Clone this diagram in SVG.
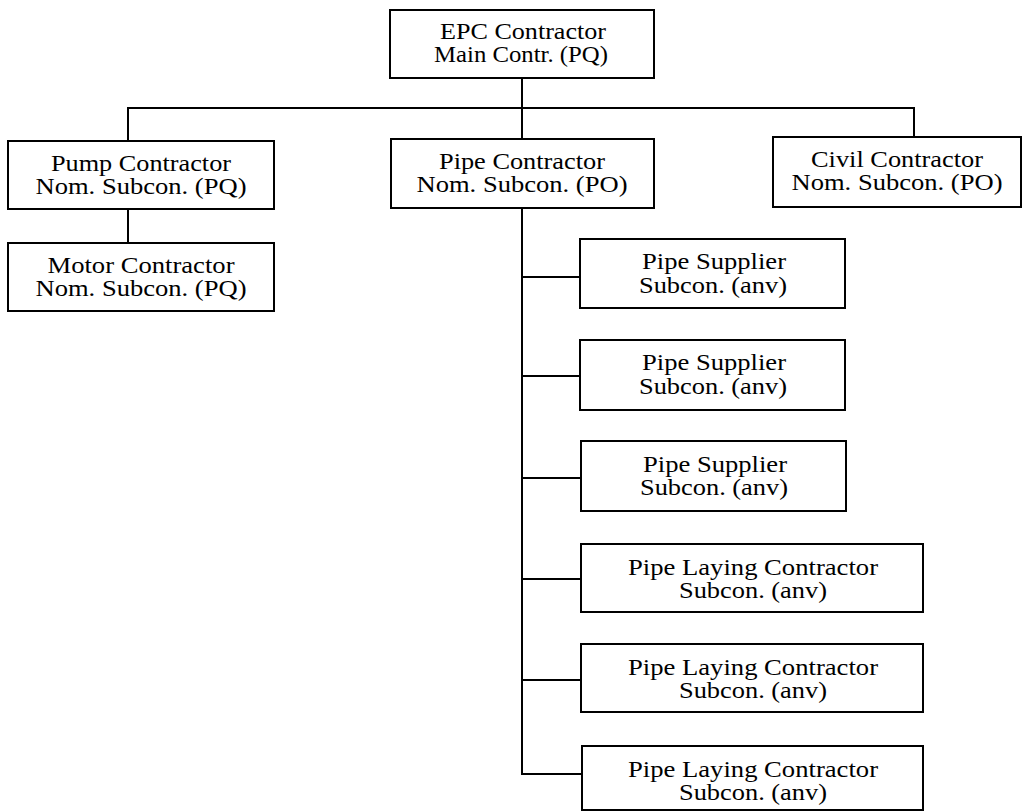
<svg xmlns="http://www.w3.org/2000/svg" width="1027" height="812" viewBox="0 0 1027 812">
  <style>
    .box { fill: #ffffff; stroke: #000000; stroke-width: 2; }
    .wire { fill: none; stroke: #000000; stroke-width: 2; }
    .label { font-family: "Liberation Serif", "Times New Roman", serif; font-size: 24px; fill: #000000; text-anchor: middle; }
  </style>
  <rect width="1027" height="812" fill="#ffffff"/>

  <!-- connectors -->
  <g id="connectors">
    <path class="wire" d="M522 78 V139"/>
    <path class="wire" d="M128 141 V108 H914 V137"/>
    <path class="wire" d="M128 209 V243"/>
    <path class="wire" d="M522 208 V774 H581"/>
    <path class="wire" d="M522 277 H580"/>
    <path class="wire" d="M522 376 H580"/>
    <path class="wire" d="M522 478 H580"/>
    <path class="wire" d="M522 579 H581"/>
    <path class="wire" d="M522 680 H581"/>
  </g>

  <!-- organisation nodes -->
  <g id="epc">
    <rect class="box" x="390" y="10" width="264" height="68"/>
    <text class="label" x="523" y="39" textLength="166" lengthAdjust="spacingAndGlyphs">EPC Contractor</text>
    <text class="label" x="521" y="62" textLength="174" lengthAdjust="spacingAndGlyphs">Main Contr. (PQ)</text>
  </g>
  <g id="pump">
    <rect class="box" x="8" y="141" width="266" height="68"/>
    <text class="label" x="141" y="171" textLength="180" lengthAdjust="spacingAndGlyphs">Pump Contractor</text>
    <text class="label" x="141" y="194" textLength="211" lengthAdjust="spacingAndGlyphs">Nom. Subcon. (PQ)</text>
  </g>
  <g id="motor">
    <rect class="box" x="8" y="243" width="266" height="68"/>
    <text class="label" x="141" y="273" textLength="187" lengthAdjust="spacingAndGlyphs">Motor Contractor</text>
    <text class="label" x="141" y="296" textLength="211" lengthAdjust="spacingAndGlyphs">Nom. Subcon. (PQ)</text>
  </g>
  <g id="pipe">
    <rect class="box" x="391" y="139" width="263" height="69"/>
    <text class="label" x="522" y="169" textLength="166" lengthAdjust="spacingAndGlyphs">Pipe Contractor</text>
    <text class="label" x="522" y="192" textLength="211" lengthAdjust="spacingAndGlyphs">Nom. Subcon. (PO)</text>
  </g>
  <g id="civil">
    <rect class="box" x="773" y="137" width="248" height="70"/>
    <text class="label" x="897" y="167" textLength="172" lengthAdjust="spacingAndGlyphs">Civil Contractor</text>
    <text class="label" x="897" y="190" textLength="211" lengthAdjust="spacingAndGlyphs">Nom. Subcon. (PO)</text>
  </g>
  <g id="supplier1">
    <rect class="box" x="580" y="239" width="265" height="69"/>
    <text class="label" x="714" y="269" textLength="144" lengthAdjust="spacingAndGlyphs">Pipe Supplier</text>
    <text class="label" x="713" y="293" textLength="148" lengthAdjust="spacingAndGlyphs">Subcon. (anv)</text>
  </g>
  <g id="supplier2">
    <rect class="box" x="580" y="340" width="265" height="70"/>
    <text class="label" x="714" y="370" textLength="144" lengthAdjust="spacingAndGlyphs">Pipe Supplier</text>
    <text class="label" x="713" y="394" textLength="148" lengthAdjust="spacingAndGlyphs">Subcon. (anv)</text>
  </g>
  <g id="supplier3">
    <rect class="box" x="581" y="441" width="265" height="70"/>
    <text class="label" x="715" y="472" textLength="144" lengthAdjust="spacingAndGlyphs">Pipe Supplier</text>
    <text class="label" x="714" y="495" textLength="148" lengthAdjust="spacingAndGlyphs">Subcon. (anv)</text>
  </g>
  <g id="laying1">
    <rect class="box" x="581" y="544" width="342" height="68"/>
    <text class="label" x="753" y="575" textLength="250" lengthAdjust="spacingAndGlyphs">Pipe Laying Contractor</text>
    <text class="label" x="753" y="598" textLength="148" lengthAdjust="spacingAndGlyphs">Subcon. (anv)</text>
  </g>
  <g id="laying2">
    <rect class="box" x="581" y="644" width="342" height="68"/>
    <text class="label" x="753" y="675" textLength="250" lengthAdjust="spacingAndGlyphs">Pipe Laying Contractor</text>
    <text class="label" x="753" y="698" textLength="148" lengthAdjust="spacingAndGlyphs">Subcon. (anv)</text>
  </g>
  <g id="laying3">
    <rect class="box" x="582" y="746" width="341" height="64"/>
    <text class="label" x="753" y="777" textLength="250" lengthAdjust="spacingAndGlyphs">Pipe Laying Contractor</text>
    <text class="label" x="753" y="800" textLength="148" lengthAdjust="spacingAndGlyphs">Subcon. (anv)</text>
  </g>
</svg>
